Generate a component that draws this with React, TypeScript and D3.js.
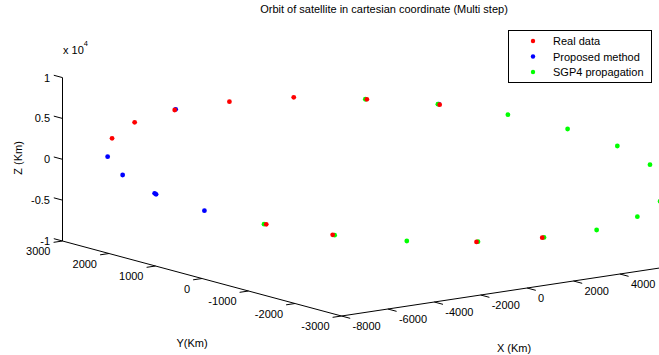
import * as d3 from 'd3';

// Real data (red)
const realX = [-6245, -5732, -4825, -3585, -2127, -470, 1180, 3505, 2015, -1245, -2750];
const realY = [2810, 2580, 2171, 1613, 957, 212, -531, -1577, -907, 560, 1238];
const realZ = [2109, 4201, 5942, 7280, 8198, 8381, 8150, -7515, -8420, -8400, -7513];

// Proposed method (blue)
const propX = [-6345, -6005, -5279, -5247, -4152, -4803, 1160];
const propY = [2855, 2702, 2376, 2361, 1868, 2161, -522];
const propZ = [-169, -2321, -4372, -4486, -6208, 6033, 8230];

// SGP4 propagation (green)
const sgpX = [-505, 1140, 2726, 4079, 5206, 5946, 6177, 5660, 4737, 3545, 2048, 435, -1200, -2800];
const sgpY = [227, -513, -1227, -1836, -2343, -2676, -2780, -2547, -2132, -1595, -922, -196, 540, 1260];
const sgpZ = [8381, 8210, 7331, 5933, 4145, 2049, -2371, -4390, -6258, -7480, -8390, -8725, -8435, -7500];

const xTicks = [-8000, -6000, -4000, -2000, 0, 2000, 4000];
const xTickLabels = ['-8000', '-6000', '-4000', '-2000', '0', '2000', '4000'];
const yTicks = [3000, 2000, 1000, 0, -1000, -2000, -3000];
const yTickLabels = ['3000', '2000', '1000', '0', '-1000', '-2000', '-3000'];
const zTicks = [-10000, -5000, 0, 5000, 10000];
const zTickLabels = ['-1', '-0.5', '0', '0.5', '1'];

const seriesNames = ['Real data', 'Proposed method', 'SGP4 propagation'];
const seriesColors = ['#ff0000', '#0000ff', '#00ff00'];

export default function App() {
  const W = 659, H = 355;
  const font = 'Liberation Sans, Arial, sans-serif';

  // linear 3d -> 2d projection, corner (xmin, ymin, zmin) at origin
  const origin = [341.5, 316];
  const xScale = d3.scaleLinear().domain([-8000, 8000]).range([0, 16]);
  const yScale = d3.scaleLinear().domain([-3000, 3000]).range([0, 6]);
  const zScale = d3.scaleLinear().domain([-10000, 10000]).range([0, -163.4]);
  const xv = [23.2, -3.5];   // per 1000 km of X
  const yv = [-46.5, -12.5]; // per 1000 km of Y

  const project = (x: number, y: number, z: number): [number, number] => [
    origin[0] + xScale(x) * xv[0] + yScale(y) * yv[0],
    origin[1] + xScale(x) * xv[1] + yScale(y) * yv[1] + zScale(z),
  ];

  const norm = (v: number[]) => {
    const l = Math.hypot(v[0], v[1]);
    return [v[0] / l, v[1] / l];
  };
  const tickLen = 9;
  const zTickDir = norm(yv);               // outward +Y
  const yTickDir = norm([-xv[0], -xv[1]]); // outward -X
  const xTickDir = norm([-yv[0], -yv[1]]); // outward -Y

  const zA = project(-8000, 3000, -10000), zB = project(-8000, 3000, 10000);
  const yA = project(-8000, -3000, -10000), yB = project(-8000, 3000, -10000);
  const xA = project(-8000, -3000, -10000), xB = project(8000, -3000, -10000);

  // drawing order: blue, green, red on top (as in the picture)
  const series = [
    { xs: propX, ys: propY, zs: propZ, c: seriesColors[1] },
    { xs: sgpX, ys: sgpY, zs: sgpZ, c: seriesColors[2] },
    { xs: realX, ys: realY, zs: realZ, c: seriesColors[0] },
  ];

  return (
    <svg width={W} height={H} style={{ position: 'absolute', left: 0, top: 0, background: '#fff' }}
      fontFamily={font} fontSize={11}>
      <rect width={W} height={H} fill="#fff" />
      <text x={384} y={13} textAnchor="middle">Orbit of satellite in cartesian coordinate (Multi step)</text>

      {/* axes */}
      <g stroke="#000" strokeWidth={1} fill="none">
        <line x1={zA[0]} y1={zA[1]} x2={zB[0]} y2={zB[1]} />
        <line x1={yA[0]} y1={yA[1]} x2={yB[0]} y2={yB[1]} />
        <line x1={xA[0]} y1={xA[1]} x2={xB[0]} y2={xB[1]} />
        {zTicks.map(t => {
          const p = project(-8000, 3000, t);
          return <line key={'zt' + t} x1={p[0]} y1={p[1]} x2={p[0] + zTickDir[0] * tickLen} y2={p[1] + zTickDir[1] * tickLen} />;
        })}
        {yTicks.map(t => {
          const p = project(-8000, t, -10000);
          return <line key={'yt' + t} x1={p[0]} y1={p[1]} x2={p[0] + yTickDir[0] * tickLen} y2={p[1] + yTickDir[1] * tickLen} />;
        })}
        {xTicks.map(t => {
          const p = project(t, -3000, -10000);
          return <line key={'xt' + t} x1={p[0]} y1={p[1]} x2={p[0] + xTickDir[0] * tickLen} y2={p[1] + xTickDir[1] * tickLen} />;
        })}
      </g>

      {/* tick labels */}
      {zTicks.map((t, i) => {
        const p = project(-8000, 3000, t);
        return <text key={'zl' + t} x={50} y={p[1] + 4} textAnchor="end">{zTickLabels[i]}</text>;
      })}
      {yTicks.map((t, i) => {
        const p = project(-8000, t, -10000);
        return <text key={'yl' + t} x={p[0] - 12} y={p[1] + 14} textAnchor="end">{yTickLabels[i]}</text>;
      })}
      {xTicks.map((t, i) => {
        const p = project(t, -3000, -10000);
        return <text key={'xl' + t} x={p[0] + 11} y={p[1] + 14} textAnchor="start">{xTickLabels[i]}</text>;
      })}

      <text x={63} y={54}>x 10<tspan fontSize={7.5} dy={-8}>4</tspan></text>
      <text transform="translate(22,158) rotate(-90)" textAnchor="middle">Z (Km)</text>
      <text x={192} y={347} textAnchor="middle">Y(Km)</text>
      <text x={514} y={352} textAnchor="middle">X (Km)</text>

      {/* data */}
      {series.map((s, si) => (
        <g key={'s' + si} fill={s.c}>
          {s.xs.map((x, i) => {
            const p = project(x, s.ys[i], s.zs[i]);
            return <circle key={i} cx={p[0]} cy={p[1]} r={2.4} />;
          })}
        </g>
      ))}

      {/* legend */}
      <g>
        <rect x={508.5} y={30.5} width={143} height={52} fill="#fff" stroke="#000" strokeWidth={1} />
        {seriesNames.map((n, i) => (
          <g key={n}>
            <circle cx={533} cy={41 + i * 15.5} r={2.2} fill={seriesColors[i]} />
            <text x={553} y={45 + i * 15.5}>{n}</text>
          </g>
        ))}
      </g>
    </svg>
  );
}
